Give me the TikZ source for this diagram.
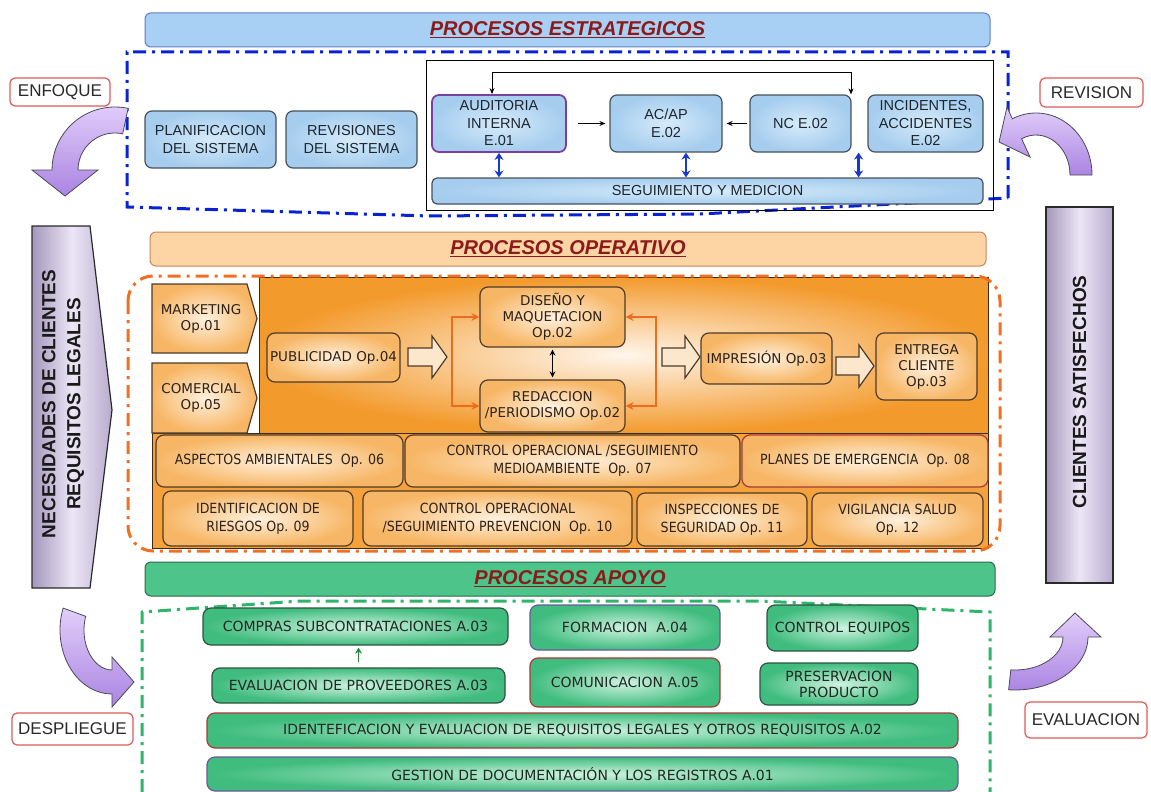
\documentclass[tikz,border=0pt]{standalone}
\usepackage{fontspec}
\setmainfont{Liberation Sans}
\newfontfamily\dv{DejaVu Sans}
\newfontfamily\dvn{DejaVu Sans}[FakeStretch=0.9]
\usetikzlibrary{arrows.meta,calc}
\newcommand\fs[2]{\fontsize{#1}{#2}\selectfont}
\definecolor{HBf}{HTML}{A8D0F5}\definecolor{HBd}{HTML}{6080C0}
\definecolor{HOf}{HTML}{FDD4A4}\definecolor{HOd}{HTML}{C8875A}
\definecolor{HGf}{HTML}{4CC48A}\definecolor{HGd}{HTML}{2E6B4B}
\definecolor{TTL}{HTML}{8B1A1A}
\definecolor{SBi}{HTML}{D6EBFA}\definecolor{SBo}{HTML}{A6CDEE}\definecolor{SBd}{HTML}{46525E}\definecolor{STx}{HTML}{1C2630}
\definecolor{AUd}{HTML}{7B3FA0}
\definecolor{OBi}{HTML}{FFF1DE}\definecolor{OBo}{HTML}{F7B665}\definecolor{OBd}{HTML}{4E3B28}\definecolor{OTx}{HTML}{2E2218}
\definecolor{PNi}{HTML}{FFF6EC}\definecolor{PNo}{HTML}{F39A2C}
\definecolor{OAre}{HTML}{F5A23C}\definecolor{ODk}{HTML}{3A2A1A}
\definecolor{OFr}{HTML}{F26F22}\definecolor{RDd}{HTML}{A83A3A}
\definecolor{GBi}{HTML}{CFF3E0}\definecolor{GBo}{HTML}{3FBC7E}\definecolor{GBd}{HTML}{2C5440}\definecolor{GTx}{HTML}{1E2A22}
\definecolor{PUd}{HTML}{6A5A9A}\definecolor{GFr}{HTML}{30B46A}
\definecolor{BFr}{HTML}{0A22D6}\definecolor{BAr}{HTML}{1838D0}
\definecolor{OAr}{HTML}{F26A1D}\definecolor{GAr}{HTML}{1E8A3C}
\definecolor{HAf}{HTML}{FCE7CC}
\definecolor{LBd}{HTML}{E05A5A}\definecolor{LTx}{HTML}{2A2A2A}
\definecolor{PAt}{HTML}{E2CEFA}\definecolor{PAb}{HTML}{AA84E2}\definecolor{PAd}{HTML}{4A4A5A}
\definecolor{SDl}{HTML}{A497BC}\definecolor{SDm}{HTML}{ECE6F6}\definecolor{SDr}{HTML}{B8ACCE}\definecolor{SDd}{HTML}{2A2A2A}\definecolor{SDt}{HTML}{1A1A1A}
\newcommand\bx[7][]{\node[#2,minimum width={#5pt-#3pt},minimum height={#6pt-#4pt},#1] (#7) at ({(#3+#5)/2},{(#4+#6)/2})}
\newcommand\harrow[3]{\draw[harr] (#1,#3-9) -- (#2-15,#3-9) -- (#2-15,#3-21) -- (#2,#3) -- (#2-15,#3+21) -- (#2-15,#3+9) -- (#1,#3+9) -- cycle;}
\begin{document}
\begin{tikzpicture}[x=1pt,y=-1pt,
  sbox/.style={draw=SBd,line width=1.2pt,rounded corners=7pt,inner color=SBi,outer color=SBo,align=center,text=STx,font={\fs{14.5}{17.5}},inner sep=1pt},
  obox/.style={draw=OBd,line width=1.2pt,rounded corners=8pt,inner color=OBi,outer color=OBo,align=center,text=OTx,font={\dv\fs{13.5}{16}},inner sep=1pt},
  ofill/.style={draw=OBd,line width=1.2pt,inner color=OBi,outer color=OBo},
  otext/.style={align=center,text=OTx,font={\dv\fs{13.5}{16}},inner sep=1pt},
  rbox/.style={obox,font={\dvn\fs{14}{18}}},
  gbox/.style={draw=GBd,line width=1.2pt,rounded corners=8pt,inner color=GBi,outer color=GBo,align=center,text=GTx,font={\dv\fs{14}{16}},inner sep=1pt},
  hdr/.style={line width=1pt,rounded corners=6pt},
  ttl/.style={font={\fs{20}{24}\bfseries\itshape},text=TTL},
  lab/.style={draw=LBd,fill=white,line width=1.2pt,rounded corners=5pt,font={\fs{17}{19}},text=LTx,inner sep=1pt},
  frm/.style={line width=3pt,dash pattern=on 13pt off 6pt on 3pt off 6pt},
  parr/.style={draw=PAd,line width=0.8pt,top color=PAt,bottom color=PAb},
  side/.style={draw=SDd,line width=1.2pt,left color=SDl,right color=SDr,middle color=SDm},
  sidetxt/.style={rotate=90,align=center,font={\fs{19}{25}\bfseries},text=SDt},
  harr/.style={draw=OBd,line width=1.2pt,fill=HAf},
  barr/.style={draw=BAr,line width=2.4pt,arrows={Stealth[length=7pt,width=9pt]-Stealth[length=7pt,width=9pt]}},
  karr/.style={draw=black,line width=1pt,arrows={-Stealth[length=6pt,width=5pt]}},
  oarr/.style={draw=OAr,line width=2pt,arrows={-Stealth[length=8pt,width=8pt]}},
  garr/.style={draw=GAr,line width=1.8pt,arrows={-Stealth[length=6pt,width=7pt]}},
]
\fill[white] (0,0) rectangle (1151,792);
\useasboundingbox (0,0) rectangle (1151,792);

% ---------- headers
\node[hdr,ttl,draw=HBd,fill=HBf,minimum width=845pt,minimum height=34pt] (hst) at (567.5,30) {\underline{PROCESOS ESTRATEGICOS}};
\node[hdr,ttl,draw=HOd,fill=HOf,minimum width=836pt,minimum height=34pt] (hop) at (568,249) {\underline{PROCESOS OPERATIVO}};
\node[hdr,ttl,draw=HGd,fill=HGf,minimum width=850pt,minimum height=34pt] (hap) at (570,579) {\underline{PROCESOS APOYO}};

% ---------- strategic
\draw[frm,draw=BFr] (1008,198) -- (1008,52) -- (127,52) -- (127,207) -- (430,216) -- (700,214) -- cycle;
\node[draw=black,line width=1pt,minimum width=567pt,minimum height=149pt] (sfr) at (709.5,135.5) {};
\bx{sbox}{145}{111}{276}{168}{plan} {PLANIFICACION\\DEL SISTEMA};
\bx{sbox}{286}{111}{417}{168}{revs} {REVISIONES\\DEL SISTEMA};
\bx[draw=AUd,line width=1.8pt]{sbox}{432}{95}{566}{152}{aud} {AUDITORIA\\INTERNA\\E.01};
\bx{sbox}{610}{95}{722}{152}{acap} {AC/AP\\E.02};
\bx{sbox}{750}{95}{851}{152}{nc} {NC E.02};
\bx{sbox}{868}{95}{983}{152}{inc} {INCIDENTES,\\ACCIDENTES\\E.02};
\bx[rounded corners=5pt]{sbox}{432}{178}{983}{204}{seg} {SEGUIMIENTO Y MEDICION};
\draw[karr,shorten <=11pt,shorten >=4pt] (aud.east) -- (acap.west);
\draw[karr,shorten <=2pt,shorten >=4pt] (nc.west) -- (acap.east);
\coordinate (fbL) at (492,73);
\coordinate (fbR) at (851,73);
\draw[line width=1pt,arrows={Stealth[length=6pt,width=5pt]-Stealth[length=6pt,width=5pt]}] (aud.north -| fbL) -- (fbL) -- (fbR) -- (fbR |- nc.north);
\draw[barr] (aud.south) -- (aud.south |- seg.north);
\draw[barr] ([xshift=20pt]acap.south) -- ([xshift=20pt]acap.south |- seg.north);
\draw[barr] ([xshift=7pt]nc.south east) -- ([xshift=7pt]nc.south east |- seg.north);

% ---------- operative
\node[draw=ODk,fill=OAre,line width=1pt,minimum width=836pt,minimum height=115pt] (obot) at (570,490.5) {};
\node[draw=ODk,line width=1pt,inner color=PNi,outer color=PNo,minimum width=729pt,minimum height=156pt] (pnl) at (623.5,355) {};
\draw[frm,draw=OFr,rounded corners=25pt] (128,276) rectangle (1000,551);
\path[ofill] (152,284) -- (247,284) -- (257,318.5) -- (247,353) -- (152,353) -- cycle;
\node[otext] (mkt) at (201,318.5) {MARKETING\\Op.01};
\path[ofill] (152,363) -- (247,363) -- (257,398) -- (247,433) -- (152,433) -- cycle;
\node[otext] (com) at (201,398) {COMERCIAL\\Op.05};
\bx{obox}{267}{333}{400}{382}{pub} {PUBLICIDAD Op.04};
\bx{obox}{480}{287}{625}{347}{dis} {DISEÑO Y\\MAQUETACION\\Op.02};
\bx{obox}{480}{380}{625}{432}{red} {REDACCION\\/PERIODISMO Op.02};
\bx{obox}{701}{333}{832}{384}{imp} {IMPRESIÓN Op.03};
\bx{obox}{876}{333}{977}{400}{ent} {ENTREGA\\CLIENTE\\Op.03};
\harrow{408}{447}{357}
\harrow{662}{700}{357}
\harrow{836}{874}{366}
\coordinate (bl) at (452,362);
\coordinate (br) at (656,362);
\draw[oarr] (bl) |- (dis.west);
\draw[oarr] (bl) |- (red.west);
\draw[oarr] (br) |- (dis.east);
\draw[oarr] (br) |- (red.east);
\draw[line width=1.5pt,arrows={Stealth[length=6pt,width=6pt]-Stealth[length=6pt,width=6pt]},shorten <=2pt,shorten >=2pt] (dis.south) -- (red.north);
\bx{rbox}{156}{435}{403}{487}{asp} {ASPECTOS AMBIENTALES~~Op. 06};
\bx{rbox}{405}{435}{740}{487}{cop7} {CONTROL OPERACIONAL /SEGUIMIENTO\\MEDIOAMBIENTE~~Op. 07};
\bx[draw=RDd]{rbox}{742}{435}{988}{487}{pla} {PLANES DE EMERGENCIA~~Op. 08};
\bx{rbox}{163}{491}{353}{546}{ide} {IDENTIFICACION DE\\RIESGOS Op. 09};
\bx{rbox}{363}{491}{632}{546}{cop10} {CONTROL OPERACIONAL\\/SEGUIMIENTO PREVENCION~~Op. 10};
\bx{rbox}{637}{493}{807}{546}{ins} {INSPECCIONES DE\\SEGURIDAD Op. 11};
\bx{rbox}{812}{493}{983}{546}{vig} {VIGILANCIA SALUD\\Op. 12};

% ---------- support
\draw[frm,draw=GFr] (142,792) -- (142,612) -- (300,601) -- (760,601) -- (990,612) -- (990,792);
\bx{gbox}{203}{608}{508}{645}{comp} {COMPRAS SUBCONTRATACIONES A.03};
\bx{gbox}{212}{668}{505}{703}{eval} {EVALUACION DE PROVEEDORES A.03};
\bx[draw=PUd]{gbox}{530}{605}{720}{650}{form} {FORMACION~~A.04};
\bx[draw=RDd]{gbox}{530}{658}{720}{707}{comu} {COMUNICACION A.05};
\bx{gbox}{767}{605}{918}{651}{ctrl} {CONTROL EQUIPOS};
\bx{gbox}{760}{663}{918}{705}{pres} {PRESERVACION\\PRODUCTO};
\bx[draw=RDd]{gbox}{207}{713}{958}{748}{iden} {IDENTEFICACION Y EVALUACION DE REQUISITOS LEGALES Y OTROS REQUISITOS A.02};
\bx[draw=PUd]{gbox}{207}{757}{958}{791}{gest} {GESTION DE DOCUMENTACIÓN Y LOS REGISTROS A.01};
\draw[garr,shorten <=5pt,shorten >=2pt] (eval.north) -- (eval.north |- comp.south);

% ---------- labels
\bx{lab}{10}{78}{110}{106}{enf} {ENFOQUE};
\bx{lab}{1040}{78}{1143}{107}{revi} {REVISION};
\bx{lab}{12}{713}{133}{745}{desp} {DESPLIEGUE};
\bx{lab}{1025}{702}{1147}{738}{evalu} {EVALUACION};

% ---------- curved arrows
\path[parr] ([shift={(115,170)}]-78:63) arc[start angle=-78,end angle=-180,radius=63] -- (32,170) -- (65,196) -- (98,170) -- ([shift={(115,170)}]-180:37) arc[start angle=-180,end angle=-78,radius=37] -- cycle;
\path[parr] ([shift={(1036,175)}]0:56 and 62) arc[start angle=0,end angle=-115,x radius=56,y radius=62] -- (1007,107) -- (999,142) -- (1030,157) -- ([shift={(1036,175)}]-115:34 and 40) arc[start angle=-115,end angle=0,x radius=34,y radius=40] -- cycle;
\path[parr] ([shift={(112,630)}]-160:52 and 64) arc[start angle=-160,end angle=-270,x radius=52,y radius=64] -- (112,707) -- (134,682) -- (112,657) -- ([shift={(112,630)}]-270:28 and 40) arc[start angle=-270,end angle=-160,x radius=28,y radius=40] -- cycle;
\path[parr] ([shift={(1015,637)}]-265:73 and 53) arc[start angle=-265,end angle=-360,x radius=73,y radius=53] -- (1101,637) -- (1075,613) -- (1050,637) -- ([shift={(1015,637)}]-360:48 and 33) arc[start angle=-360,end angle=-265,x radius=48,y radius=33] -- cycle;

% ---------- side blocks
\path[side] (32,226) -- (90,226) -- (112,410) -- (90,588) -- (32,588) -- cycle;
\node[sidetxt] (nec) at (63,404) {NECESIDADES DE CLIENTES\\REQUISITOS LEGALES};
\node[side,minimum width=67pt,minimum height=376pt] (sat) at (1079.5,395) {};
\node[sidetxt] (cli) at (1079.5,392) {CLIENTES SATISFECHOS};
\end{tikzpicture}
\end{document}
